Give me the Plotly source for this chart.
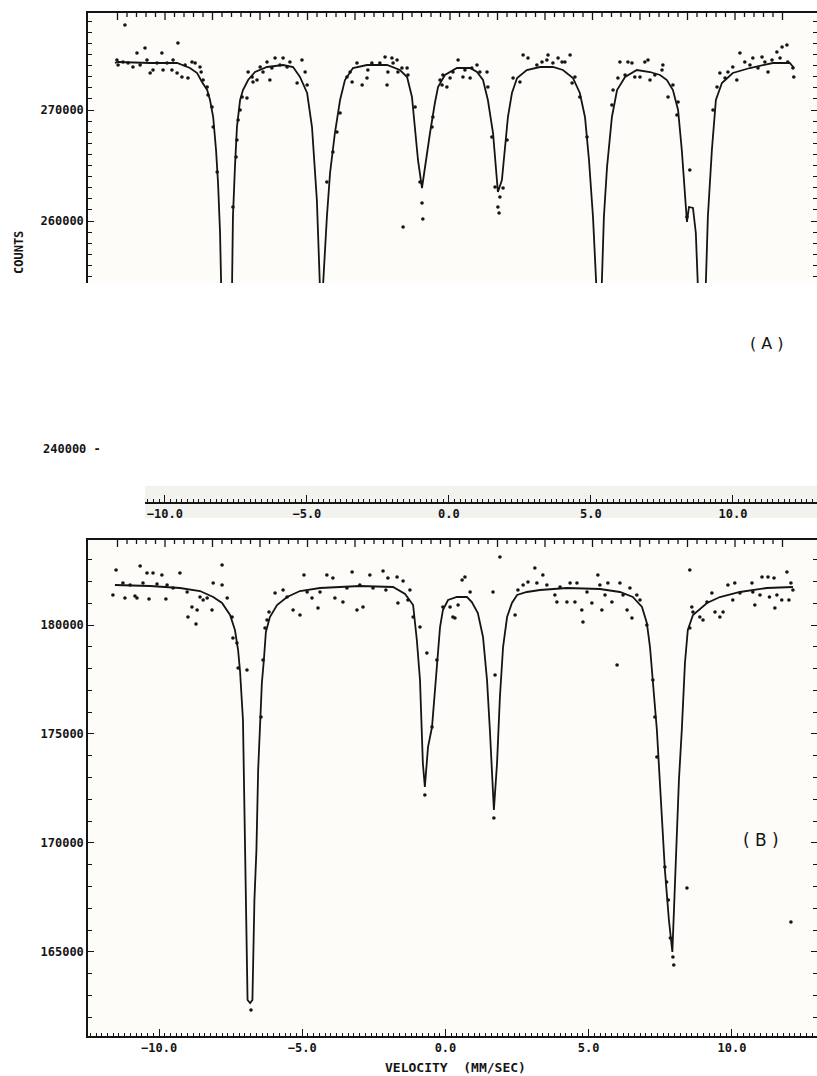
import plotly.graph_objects as go

# ---------------- DATA ----------------
# Panel A : velocity (mm/s) and counts of measured points
A_VEL_PTS = [-11.47, -11.43, -11.26, -11.08, -10.91, -10.77, -10.66, -10.49, -10.42, -10.31,
             -10.21, -10.07, -9.90, -9.86, -9.72, -9.55, -9.51, -9.34, -9.37, -9.20,
             -9.09, -8.99, -8.85, -8.74, -8.57, -8.53, -8.46, -8.32, -8.29, -8.15,
             -8.11, -7.97, -7.42, -7.31, -7.28, -7.24, -7.17, -7.10, -6.93, -6.89,
             -6.75, -6.72, -6.58, -6.47, -6.37, -6.23, -6.13, -6.06, -5.95, -5.78,
             -5.67, -5.53, -5.43, -5.18, -11.19, -5.01, -4.90, -4.83, -4.14, -3.93,
             -3.79, -3.68, -3.44, -3.33, -3.26, -3.09, -2.91, -2.74, -2.71, -2.57,
             -2.29, -2.11, -2.04, -2.01, -1.87, -1.83, -1.69, -1.66, -1.52, -1.34,
             -1.31, -1.06, -0.89, -0.82, -0.79, -1.48, -0.47, -0.44, -0.19, -0.12,
             -0.09, 0.05, 0.16, 0.26, 0.44, 0.61, 0.68, 0.86, 0.92, 1.10,
             1.20, 1.45, 1.48, 1.62, 1.73, 1.90, 1.83, 1.87, 2.01, 2.15,
             2.36, 2.60, 2.71, 2.88, 3.19, 3.37, 3.54, 3.58, 3.75, 3.93,
             4.07, 4.17, 4.35, 4.42, 4.52, 4.69, 4.94, 5.81, 5.85, 6.02,
             6.09, 6.27, 6.37, 6.51, 6.61, 6.79, 6.96, 7.07, 7.14, 7.31,
             7.56, 7.59, 7.77, 7.94, 8.12, 8.08, 8.43, 8.53, 9.34, 9.48,
             9.58, 9.76, 9.86, 10.03, 10.17, 10.28, 10.45, 10.63, 10.73, 10.91,
             11.05, 11.15, 11.26, 11.40, 11.57, 11.68, 11.75, 11.92, 11.95, 12.13,
             12.16]
A_CNT_PTS = [274505, 274054, 274324, 274234, 273874, 275135, 274054, 275586, 274505, 273333,
             273604, 274234, 275135, 273604, 274234, 273604, 274505, 276036, 273333, 272973,
             274054, 272883, 274324, 274234, 273874, 273423, 272703, 272072, 271351, 270270,
             268468, 264414, 261261, 265766, 267297, 269099, 270000, 271171, 271081, 273423,
             272973, 272523, 272703, 273874, 273423, 274324, 272703, 273784, 274685, 274054,
             274685, 273874, 274324, 272432, 277658, 274505, 273423, 272252, 263514, 266216,
             268018, 269730, 272973, 273423, 272523, 274234, 272252, 272883, 273604, 274234,
             274234, 274775, 272252, 273423, 274685, 274234, 274505, 273423, 273784, 273784,
             273153, 270270, 263514, 261622, 260180, 259459, 268468, 269369, 272703, 272252,
             273153, 272072, 272883, 273423, 274505, 272973, 273604, 272883, 273784, 274054,
             273423, 273423, 272072, 267568, 263063, 262162, 261261, 260721, 262973, 267297,
             272883, 272523, 274955, 274685, 274054, 274324, 274505, 274955, 274234, 274685,
             274324, 274324, 274955, 272432, 272973, 271171, 267568, 270450, 271802, 272883,
             274324, 273153, 274324, 274234, 272973, 272973, 274324, 274505, 272703, 273153,
             273604, 274054, 271171, 272252, 270721, 269550, 260360, 264595, 270000, 272072,
             273333, 272883, 273423, 273874, 272703, 275135, 274324, 274054, 274685, 273784,
             274775, 274324, 273423, 274505, 275225, 274685, 275676, 275856, 274324, 273784,
             272973]

# Panel A : fitted curve
A_VEL_FIT = [-11.54, -11.43, -10.31, -9.37, -8.92, -8.67, -8.50, -8.32, -8.22, -8.11,
             -8.01, -7.94, -7.87, -7.83, -7.82, -7.64, -7.47, -7.45, -7.42, -7.35,
             -7.28, -7.17, -7.07, -6.89, -6.65, -6.23, -5.67, -5.32, -5.08, -4.83,
             -4.66, -4.49, -4.38, -4.36, -4.33, -4.29, -4.27, -4.14, -4.03, -3.86,
             -3.68, -3.51, -3.23, -2.74, -2.04, -1.59, -1.34, -1.17, -1.06, -0.96,
             -0.82, -0.72, -0.54, -0.37, -0.26, -0.02, 0.40, 0.86, 1.10, 1.31,
             1.48, 1.66, 1.76, 1.83, 1.97, 2.08, 2.18, 2.32, 2.50, 2.84,
             3.30, 3.75, 4.10, 4.45, 4.69, 4.87, 5.01, 5.15, 5.22, 5.24,
             5.34, 5.44, 5.46, 5.53, 5.64, 5.81, 5.99, 6.27, 6.68, 7.14,
             7.49, 7.73, 7.94, 8.12, 8.25, 8.36, 8.43, 8.50, 8.64, 8.74,
             8.81, 8.83, 8.95, 9.08, 9.09, 9.16, 9.30, 9.44, 9.65, 10.03,
             10.63, 11.43, 12.02, 12.17]
A_CNT_FIT = [274234, 274324, 274234, 274234, 273784, 273333, 272523, 271802, 270901, 269369,
             266396, 263423, 258919, 254414, 252883, 250180, 252883, 254414, 260360, 264865,
             268468, 270901, 271802, 272703, 273423, 273874, 274054, 273874, 272973, 271532,
             268468, 261892, 254414, 252883, 250180, 252883, 254414, 260360, 264324, 267928,
             270901, 272703, 273784, 274054, 274054, 273604, 272973, 271171, 268468, 265496,
             262973, 264865, 267928, 270631, 272072, 273153, 273784, 273784, 273423, 272703,
             270901, 267928, 264865, 262613, 263694, 266396, 269369, 271532, 272883, 273604,
             273874, 273874, 273604, 272883, 271532, 269369, 265496, 260360, 254414, 252883,
             250180, 252883, 254414, 260360, 264865, 269369, 271802, 272973, 273604, 273423,
             273153, 272703, 271802, 270000, 266396, 262523, 259910, 261261, 261171, 258919,
             254414, 252883, 250180, 252883, 254414, 260360, 266396, 270901, 272432, 273333,
             273784, 274234, 274234, 273784]

# Panel B : measured points
B_VEL_PTS = [-11.50, -11.61, -11.19, -10.84, -10.77, -10.66, -10.42, -10.35, -10.21, -9.90,
             -9.76, -9.51, -9.27, -8.99, -8.85, -8.67, -8.71, -8.46, -8.15, -8.11,
             -7.80, -7.80, -7.62, -7.45, -7.42, -7.28, -7.24, -6.93, -6.79, -6.44,
             -6.37, -6.30, -6.23, -6.16, -5.95, -5.67, -5.32, -5.08, -4.94, -4.66,
             -4.45, -4.38, -4.14, -3.93, -3.86, -3.58, -3.26, -3.09, -2.88, -2.64,
             -2.18, -2.01, -1.69, -1.66, -1.48, -1.31, -1.24, -1.13, -11.26, -11.01,
             -10.56, -10.07, -9.72, -9.02, -8.57, -8.32, -5.53, -4.83, -3.44, -2.99,
             -2.53, -2.08, -0.72, -0.65, -0.47, -0.09, 0.16, 0.26, 0.33, 0.44,
             0.58, 0.68, 0.86, 1.66, 1.73, 1.69, 1.90, 2.43, 2.53, 2.71,
             2.88, 3.12, 3.19, 3.40, 3.54, 3.82, 3.89, 4.00, 4.24, 4.35,
             4.52, 4.59, 4.76, 4.80, 4.94, 5.11, 5.32, 5.39, 5.46, 5.57,
             5.67, 5.81, 5.99, 6.09, 6.20, 6.34, 6.44, 6.51, 6.68, 6.79,
             7.03, 7.24, 7.31, 7.38, 7.66, 7.72, 7.78, 7.85, 7.94, 7.97,
             8.43, 8.53, 8.53, 8.60, 8.64, 8.88, 8.99, 9.13, 9.30, 9.41,
             9.58, 9.69, 9.86, 10.03, 10.10, 10.28, 10.70, 10.73, 10.80, 10.98,
             11.05, 11.26, 11.31, 11.47, 11.50, 11.57, 11.74, 11.92, 11.99, 12.06,
             12.13, 12.06, -0.89, -0.30]
B_CNT_PTS = [182525, 181377, 181239, 181331, 181239, 182708, 182387, 181193, 182387, 182295,
             181193, 181698, 182387, 180367, 180826, 180689, 180046, 181148, 180689, 181928,
             182754, 181836, 181239, 180367, 179403, 179174, 178026, 177935, 162328, 175777,
             178394, 179862, 180230, 180597, 181469, 181607, 180689, 180459, 182295, 181239,
             180780, 181515, 182295, 182157, 181239, 181056, 182433, 180689, 180826, 182295,
             182479, 182157, 182203, 181010, 182020, 181148, 181607, 180367, 181928, 181836,
             181928, 181882, 181836, 181515, 181285, 181239, 181285, 181515, 181698, 181836,
             181698, 181607, 172197, 178715, 175318, 180826, 180826, 180367, 180321, 180918,
             182066, 182203, 181515, 181515, 177705, 171141, 183121, 180459, 181607, 181836,
             181974, 182616, 181928, 182295, 181836, 181377, 181056, 181744, 181056, 181928,
             181056, 181928, 180689, 180138, 181515, 181010, 182295, 181836, 180689, 181377,
             181928, 181056, 178164, 181928, 181377, 180689, 181698, 180321, 181377, 181148,
             180000, 177476, 175777, 173941, 168892, 168204, 167378, 165633, 164762, 164395,
             167928, 182525, 179862, 180826, 180597, 180367, 180230, 181056, 181469, 180597,
             180367, 180597, 181836, 181148, 181928, 181469, 181928, 181515, 180918, 181377,
             182203, 182203, 181285, 182157, 180780, 181377, 181148, 182433, 181148, 181928,
             181607, 166368, 179908, 178394]

# Panel B : fitted curve
B_VEL_FIT = [-11.54, -10.31, -9.27, -8.57, -8.11, -7.80, -7.52, -7.35, -7.24, -7.17,
             -7.07, -7.02, -6.97, -6.91, -6.82, -6.74, -6.67, -6.60, -6.54, -6.47,
             -6.41, -6.34, -6.27, -6.13, -5.88, -5.53, -5.08, -4.38, -2.99, -1.83,
             -1.41, -1.13, -1.00, -0.89, -0.79, -0.72, -0.61, -0.47, -0.30, -0.19,
             -0.09, 0.09, 0.40, 0.75, 0.92, 1.13, 1.31, 1.45, 1.55, 1.66,
             1.69, 1.80, 1.90, 2.01, 2.15, 2.32, 2.50, 2.84, 3.30, 4.24,
             5.39, 6.09, 6.54, 6.86, 7.03, 7.14, 7.24, 7.38, 7.52, 7.66,
             7.80, 7.92, 7.99, 8.06, 8.15, 8.25, 8.36, 8.46, 8.64, 9.13,
             9.58, 10.28, 11.22, 12.13]
B_CNT_FIT = [181836, 181790, 181698, 181561, 181285, 181010, 180459, 179771, 178853, 177843,
             175640, 171968, 167378, 162788, 162650, 162788, 167378, 169673, 173345, 175731,
             177338, 178394, 179679, 180367, 180918, 181285, 181561, 181698, 181790, 181744,
             181423, 180918, 179312, 177476, 173666, 172564, 174400, 175318, 178256, 179908,
             180689, 181148, 181285, 181285, 181056, 180551, 179449, 177476, 175181, 172105,
             171509, 173666, 176695, 178990, 180367, 181010, 181377, 181515, 181607, 181698,
             181652, 181515, 181285, 180826, 180092, 178990, 177476, 175181, 171968, 168755,
             166460, 164991, 167378, 169673, 172886, 175181, 178256, 179771, 180459, 181010,
             181285, 181515, 181698, 181744]

# Axis ranges
VEL_RANGE = [-12.48, 12.97]
STRIP_RANGE = [-10.70, 12.96]
A_CNT_RANGE = [254414, 278739]
B_CNT_RANGE = [161135, 183902]

# ---------------- STYLE ----------------
W, H = 817, 1076
INK = "#141414"
MONO = dict(family="DejaVu Sans Mono", size=12, color=INK, weight="bold")


def fx(p):
    return p / W


def fy(p):
    return 1 - p / H


fig = go.Figure()

fig.add_trace(go.Scatter(x=A_VEL_PTS, y=A_CNT_PTS, mode="markers",
                         marker=dict(size=3.6, color=INK), xaxis="x", yaxis="y"))
fig.add_trace(go.Scatter(x=A_VEL_FIT, y=A_CNT_FIT, mode="lines",
                         line=dict(color=INK, width=1.8), xaxis="x", yaxis="y"))
fig.add_trace(go.Scatter(x=B_VEL_PTS, y=B_CNT_PTS, mode="markers",
                         marker=dict(size=3.6, color=INK), xaxis="x2", yaxis="y2"))
fig.add_trace(go.Scatter(x=B_VEL_FIT, y=B_CNT_FIT, mode="lines",
                         line=dict(color=INK, width=1.8), xaxis="x2", yaxis="y2"))
# empty traces so that the decorative axes get drawn
for xa, ya in [("x", "y3"), ("x2", "y4"), ("x7", "y5")]:
    fig.add_trace(go.Scatter(x=[None], y=[None], xaxis=xa, yaxis=ya,
                             hoverinfo="skip", mode="markers"))

XDOM = [fx(88), 1.0]
common = dict(showgrid=False, zeroline=False, linecolor=INK, tickcolor=INK,
              linewidth=1.5, tickwidth=1.4, tickfont=MONO)


def minor_y():
    return dict(dtick=1000, ticks="inside", ticklen=4, tickcolor=INK, tickwidth=1.4)


fig.update_layout(
    width=W, height=H, margin=dict(l=0, r=0, t=0, b=0),
    paper_bgcolor="white", plot_bgcolor="#fdfcf8", showlegend=False,
    # ---- panel A
    xaxis=dict(domain=XDOM, range=VEL_RANGE, anchor="y", side="top",
               showline=True, ticks="", showticklabels=False, **common),
    yaxis=dict(domain=[fy(283), fy(13)], range=A_CNT_RANGE, anchor="x",
               showline=True, ticks="inside", ticklen=6, tick0=0, dtick=10000,
               tickformat="d", minor=minor_y(), **common),
    yaxis3=dict(overlaying="y", side="right", anchor="x", range=A_CNT_RANGE,
                showline=False, ticks="inside", ticklen=6, tick0=0, dtick=10000,
                showticklabels=False, minor=minor_y(), **common),
    # ---- scanned velocity strip between the panels (on a hair-thin y axis)
    yaxis5=dict(domain=[fy(502), fy(501.5)], range=[0, 1], anchor="x7",
                visible=False),
    xaxis7=dict(domain=[fx(145), 1.0], anchor="y5",
                side="bottom", range=STRIP_RANGE, showline=True, ticks="inside",
                ticklen=7, tick0=0, dtick=5, tickformat=".1f",
                minor=dict(dtick=0.2, ticks="inside", ticklen=3, tickcolor=INK,
                           tickwidth=1.2),
                **common),
    # ---- panel B
    xaxis2=dict(domain=XDOM, range=VEL_RANGE, anchor="y2", side="bottom",
                showline=True, mirror=True, ticks="inside", ticklen=7, tick0=0,
                dtick=5, tickformat=".1f",
                minor=dict(dtick=0.2, ticks="inside", ticklen=3, tickcolor=INK,
                           tickwidth=1.2),
                **common),
    yaxis2=dict(domain=[fy(1036), fy(540)], range=B_CNT_RANGE, anchor="x2",
                showline=True, ticks="inside", ticklen=6, tick0=0, dtick=5000,
                tickformat="d", minor=minor_y(), **common),
    yaxis4=dict(overlaying="y2", side="right", anchor="x2", range=B_CNT_RANGE,
                showline=False, ticks="inside", ticklen=6, tick0=0, dtick=5000,
                showticklabels=False, minor=minor_y(), **common),
)

# decorative plotter channel marks hanging from the top frame of each panel
# (one every ~9.5 px, every fifth one longer)
for top in (13, 540):
    for j in range(71):
        p = 117.5 + 9.5 * j
        length = 7 if j % 5 == 0 else 4
        fig.add_shape(type="line", xref="paper", yref="paper",
                      x0=fx(p), x1=fx(p), y0=fy(top), y1=fy(top + length),
                      line=dict(color=INK, width=1.3), layer="above")

# greyish scanned strip behind the separate velocity scale
fig.add_shape(type="rect", xref="paper", yref="paper", x0=fx(145), x1=1.0,
              y0=fy(518), y1=fy(486), fillcolor="#f2f2ef", line=dict(width=0),
              layer="below")

ann = [
    dict(text="COUNTS", x=fx(19), y=fy(253), textangle=-90,
         font=dict(family="DejaVu Sans Mono", size=12, color=INK, weight="bold")),
    dict(text="240000 -", x=fx(72), y=fy(449),
         font=dict(family="DejaVu Sans Mono", size=12, color=INK, weight="bold")),
    dict(text="( A )", x=fx(767), y=fy(344),
         font=dict(family="DejaVu Sans", size=16, color=INK)),
    dict(text="( B )", x=fx(761), y=fy(840),
         font=dict(family="DejaVu Sans", size=17, color=INK)),
    dict(text="VELOCITY  (MM/SEC)", x=fx(455), y=fy(1067),
         font=dict(family="DejaVu Sans Mono", size=13, color=INK, weight="bold")),
]
for a in ann:
    fig.add_annotation(xref="paper", yref="paper", showarrow=False,
                       xanchor="center", yanchor="middle", **a)

fig.write_html("out.html")
